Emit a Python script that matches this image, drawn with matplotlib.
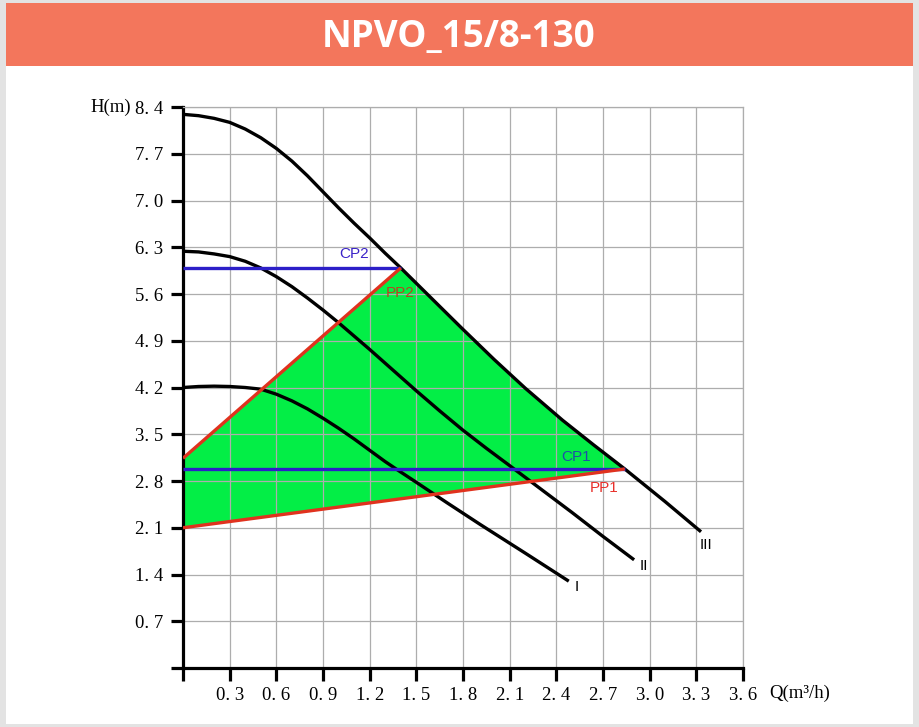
import matplotlib
matplotlib.use("Agg")
import matplotlib.pyplot as plt
from matplotlib.patches import Rectangle, Polygon

# ---------------- data ----------------
title = "NPVO_15/8-130"

x_ticks = [0.0, 0.3, 0.6, 0.9, 1.2, 1.5, 1.8, 2.1, 2.4, 2.7, 3.0, 3.3, 3.6]
x_tick_labels = ["", "0. 3", "0. 6", "0. 9", "1. 2", "1. 5", "1. 8", "2. 1",
                 "2. 4", "2. 7", "3. 0", "3. 3", "3. 6"]
y_ticks = [0.0, 0.7, 1.4, 2.1, 2.8, 3.5, 4.2, 4.9, 5.6, 6.3, 7.0, 7.7, 8.4]
y_tick_labels = ["", "0. 7", "1. 4", "2. 1", "2. 8", "3. 5", "4. 2", "4. 9",
                 "5. 6", "6. 3", "7. 0", "7. 7", "8. 4"]
x_label = "Q(m\u00b3/h)"
y_label = "H(m)"

curve_I_q = [0, 0.1, 0.2, 0.3, 0.4, 0.5, 0.6, 0.7, 0.8, 0.9, 1.0, 1.1, 1.2, 1.3,
             1.37, 1.5, 1.7, 1.91, 2.2, 2.48]
curve_I_h = [4.2, 4.215, 4.22, 4.215, 4.2, 4.175, 4.1, 4.0, 3.88, 3.74, 3.59, 3.43,
             3.26, 3.09, 2.98, 2.78, 2.47, 2.15, 1.72, 1.3]

curve_II_q = [0, 0.1, 0.2, 0.3, 0.4, 0.5, 0.6, 0.7, 0.8, 0.9, 1.0, 1.1, 1.2, 1.35,
              1.5, 1.65, 1.8, 1.95, 2.1, 2.3, 2.5, 2.7, 2.9]
curve_II_h = [6.24, 6.23, 6.2, 6.16, 6.09, 5.99, 5.86, 5.71, 5.54, 5.36, 5.17, 4.97,
              4.77, 4.46, 4.15, 3.85, 3.56, 3.29, 3.03, 2.68, 2.33, 1.97, 1.62]

curve_III_q = [0, 0.1, 0.2, 0.3, 0.4, 0.5, 0.6, 0.7, 0.8, 0.9, 1.0, 1.1, 1.2, 1.3,
               1.4, 1.5, 1.6, 1.8, 2.0, 2.2, 2.44, 2.64, 2.84, 3.1, 3.33]
curve_III_h = [8.29, 8.27, 8.23, 8.17, 8.07, 7.94, 7.78, 7.59, 7.37, 7.13, 6.89, 6.66,
               6.44, 6.21, 5.99, 5.76, 5.53, 5.07, 4.62, 4.19, 3.71, 3.34, 2.98, 2.49, 2.04]

curve_names = ["I", "II", "III"]

cp2_q = [0.0, 1.4]
cp2_h = [5.99, 5.99]
pp2_q = [0.0, 1.4]
pp2_h = [3.14, 5.99]
cp1_q = [0.0, 2.84]
cp1_h = [2.98, 2.98]
pp1_q = [0.0, 2.84]
pp1_h = [2.1, 2.98]

# ---------------- figure ----------------
W, H = 920, 727
fig = plt.figure(figsize=(W / 100, H / 100), dpi=100, facecolor="#E3E3E3")

# white panel
fig.patches.append(Rectangle((6 / W, 1 - 724 / H), 907 / W, 721 / H,
                             transform=fig.transFigure, facecolor="white",
                             edgecolor="none", zorder=-3))
# banner
fig.patches.append(Rectangle((6 / W, 1 - 66 / H), 907 / W, 63 / H,
                             transform=fig.transFigure, facecolor="#F3765C",
                             edgecolor="none", zorder=-2))
fig.text(459 / W, 1 - 37 / H, title, ha="center", va="center", color="white",
         fontsize=26.5, fontweight="bold", family="Open Sans")

ax = fig.add_axes([183 / W, 1 - 668 / H, 560 / W, 561 / H])
ax.set_zorder(1)
ax.set_facecolor("white")
ax.set_xlim(0, 3.6)
ax.set_ylim(0, 8.4)
ax.set_axisbelow(True)

# grid
ax.set_xticks(x_ticks)
ax.set_yticks(y_ticks)
ax.grid(True, color="#ADADAD", linewidth=0.9)

serif = "Liberation Serif"
ax.set_xticklabels(x_tick_labels, family=serif, fontsize=13.5)
ax.set_yticklabels(y_tick_labels, family=serif, fontsize=13.5)
ax.tick_params(axis="both", direction="out", length=9, width=2.3, color="black",
               pad=5)

for s in ["left", "bottom"]:
    ax.spines[s].set_linewidth(2.3)
    ax.spines[s].set_color("black")
for s in ["top", "right"]:
    ax.spines[s].set_linewidth(0.9)
    ax.spines[s].set_color("#ADADAD")

# green working area
poly_q = list(pp2_q)
poly_h = list(pp2_h)
for q, h in zip(curve_III_q, curve_III_h):
    if pp2_q[-1] < q <= pp1_q[-1]:
        poly_q.append(q)
        poly_h.append(h)
poly_q += pp1_q[::-1]
poly_h += pp1_h[::-1]
ax.add_patch(Polygon(list(zip(poly_q, poly_h)), closed=True,
                     facecolor="#03EE46", edgecolor="none", zorder=0.3))

# pump curves
for q, h in [(curve_I_q, curve_I_h), (curve_II_q, curve_II_h), (curve_III_q, curve_III_h)]:
    ax.plot(q, h, color="black", linewidth=2.4, zorder=3,
            solid_capstyle="butt", solid_joinstyle="round")

# control lines
ax.plot(cp2_q, cp2_h, color="#2C1FC8", linewidth=2.4, zorder=4, solid_capstyle="butt")
ax.plot(cp1_q, cp1_h, color="#2C1FC8", linewidth=2.4, zorder=4, solid_capstyle="butt")
ax.plot(pp2_q, pp2_h, color="#E0321E", linewidth=2.4, zorder=5, solid_capstyle="butt")
ax.plot(pp1_q, pp1_h, color="#E0321E", linewidth=2.4, zorder=5, solid_capstyle="butt")

sans = "Liberation Sans"
ax.text(1.10, 6.20, "CP2", color="#3A22C8", fontsize=11, family=sans, ha="center", va="center")
ax.text(1.395, 5.61, "PP2", color="#B8441E", fontsize=11, family=sans, ha="center", va="center")
ax.text(2.53, 3.16, "CP1", color="#1F4FA8", fontsize=11, family=sans, ha="center", va="center")
ax.text(2.71, 2.69, "PP1", color="#E8302A", fontsize=11, family=sans, ha="center", va="center")
ax.text(2.53, 1.21, curve_names[0], color="black", fontsize=11, family=sans, ha="center", va="center")
ax.text(2.96, 1.53, curve_names[1], color="black", fontsize=11, family=sans, ha="center", va="center")
ax.text(3.36, 1.84, curve_names[2], color="black", fontsize=11, family=sans, ha="center", va="center")

# axis labels
fig.text(111 / W, 1 - 107 / H, y_label, ha="center", va="center",
         family=serif, fontsize=13.5)
fig.text(800 / W, 1 - 693 / H, x_label, ha="center", va="center",
         family=serif, fontsize=13.5)

fig.savefig("out.png", dpi=100, facecolor=fig.get_facecolor())
